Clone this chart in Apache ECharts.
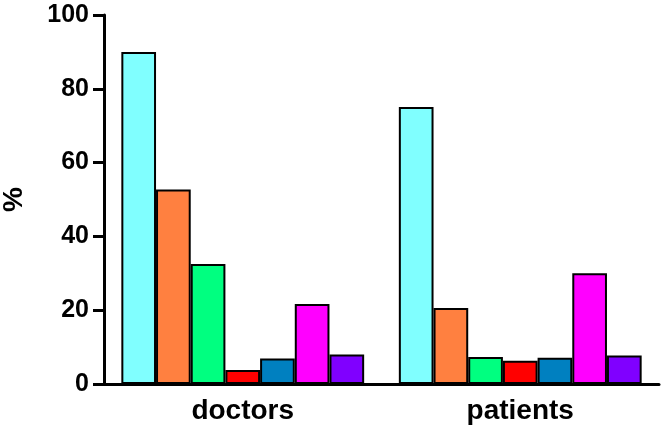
<!DOCTYPE html>
<html><head><meta charset="utf-8">
<script src="https://cdn.jsdelivr.net/npm/echarts@6/dist/echarts.min.js"></script>
<style>html,body{margin:0;padding:0;background:#fff}#c{width:665px;height:432px}</style>
</head><body><div id="c"></div>
<script>
const categories = ['doctors', 'patients'];
const seriesColors = ['#80FFFF', '#FF8040', '#00FF80', '#FF0000', '#0080C0', '#FF00FF', '#8000FF'];
const s1 = [90, 52.7, 32.5, 3.8, 6.9, 21.7, 8.0];
const s2 = [75.1, 20.6, 7.3, 6.3, 7.1, 30.0, 7.7];
const yTicks = [0, 20, 40, 60, 80, 100];

const seriesValues = seriesColors.map((c, i) => [s1[i], s2[i]]);
const font = '"Liberation Sans", Arial, sans-serif';
const chart = echarts.init(document.getElementById('c'));
chart.setOption({
  animation: false,
  grid: { left: 104, right: 6, top: 15, bottom: 48, containLabel: false, outerBoundsMode: 'none' },
  xAxis: {
    type: 'category', data: categories,
    axisLine: { lineStyle: { color: '#000', width: 3 } },
    axisTick: { alignWithLabel: true, length: 11, lineStyle: { color: '#000', width: 3 } },
    axisLabel: { color: '#000', fontWeight: 'bold', fontSize: 28, fontFamily: font, margin: 13 }
  },
  yAxis: {
    type: 'value', min: yTicks[0], max: yTicks[yTicks.length - 1], interval: 20,
    name: '%', nameLocation: 'middle', nameGap: 76, nameRotate: 90,
    nameTextStyle: { color: '#000', fontWeight: 'bold', fontSize: 28, fontFamily: font },
    splitLine: { show: false },
    axisLine: { show: true, lineStyle: { color: '#000', width: 3 } },
    axisTick: { show: true, length: 11, lineStyle: { color: '#000', width: 3 } },
    axisLabel: { color: '#000', fontWeight: 'bold', fontSize: 25, fontFamily: font, margin: 15 }
  },
  series: seriesValues.map((d, i) => ({
    type: 'bar', data: d, barGap: '0%', barCategoryGap: '12.5%',
    itemStyle: { color: seriesColors[i], borderColor: '#000', borderWidth: 2 }
  }))
});
</script></body></html>
